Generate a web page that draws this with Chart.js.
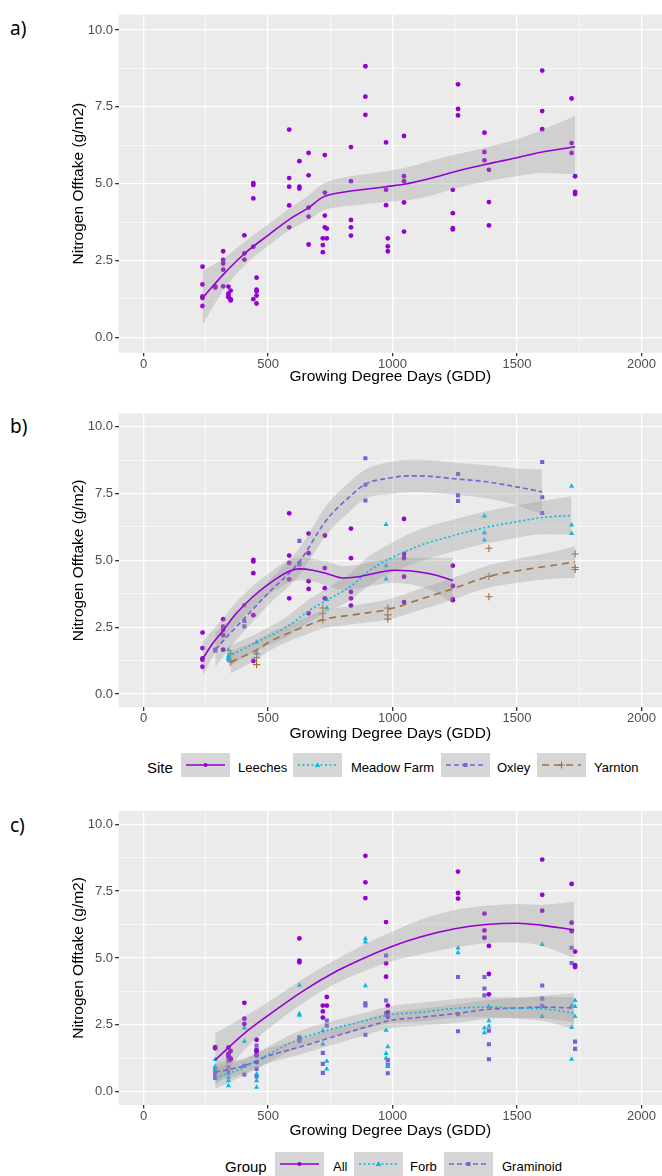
<!DOCTYPE html>
<html>
<head>
<meta charset="utf-8">
<script src="https://cdn.jsdelivr.net/npm/chart.js"></script>
<style>
  body { margin: 0; background: #fff; }
  #page { position: relative; width: 662px; height: 1176px; overflow: hidden; font-family: 'Liberation Sans', Arial, sans-serif; }
  canvas { position: absolute; left: 0; }
  .tag { position: absolute; left: 10px; font-family: 'Noto Sans', sans-serif; font-size: 19px; line-height: 1; transform: translateY(-50%); }
  .lg { position: absolute; font-size: 13px; line-height: 1; transform: translateY(-50%); white-space: nowrap; color: #000; }
  .lg.ttl { font-size: 15px; }
  .key { position: absolute; transform: translateY(-50%); }
</style>
</head>
<body>
<div id="page">
  <div class="tag" style="top:28px">a)</div>
  <div class="tag" style="top:426px">b)</div>
  <div class="tag" style="top:825px">c)</div>
  <canvas id="chartA" width="662" height="386" style="top:0px"></canvas>
  <canvas id="chartB" width="662" height="348" style="top:395px"></canvas>
  <canvas id="chartC" width="662" height="345" style="top:795px"></canvas>
</div>
<script>
// axis breaks
const xMajor = [0, 500, 1000, 1500, 2000];
const xMinor = [250, 750, 1250, 1750];
const yMajor = [0, 2.5, 5, 7.5, 10];
const yMinor = [1.25, 3.75, 6.25, 8.75];

// observations per site (GDD, N offtake)
const leechesX = [237,237,237,237,237, 320,320,320,320,320, 441,441,441,441,441, 585,585,585,585,585, 663,663,663,663,663, 728,728,728,728, 833,833,833,833,833, 1046,1046,1046,1046,1046, 1242,1242,1242,1242];
const leechesY = [2.30,1.72,1.33,1.28,1.02, 2.80,2.52,2.40,2.20,1.66, 5.02,4.96,4.52,2.95,1.24, 6.76,5.18,4.90,4.29,3.58, 6.00,5.27,4.22,3.93,3.02, 5.93,4.71,3.96,3.58, 6.19,5.08,3.82,3.58,3.31, 6.55,5.24,5.08,4.39,3.44, 4.80,4.04,3.55,3.51];
const oxleyX = [288,288, 405,405,405, 626,626,626, 891,891,891, 1263,1263,1263, 1601,1601,1601];
const oxleyY = [1.66,1.62, 3.32,2.73,2.53, 5.73,4.90,4.84, 8.82,7.83,7.24, 8.23,7.43,7.22, 8.68,7.36,6.77];
const meadowX = [341,341,341,341, 454,454, 736,736, 974,974,974, 1369,1369,1369, 1719,1719,1719];
const meadowY = [1.65,1.42,1.35,1.30, 1.94,1.55, 3.54,3.22, 6.34,4.80,4.30, 6.66,6.03,5.76, 7.77,6.32,6.00];
const yarntonX = [350,350,350, 454,454,454, 720,720,720, 981,981,981, 1387,1387,1387, 1733,1733,1733];
const yarntonY = [1.52,1.24,1.20, 1.50,1.36,1.10, 3.22,3.00,2.77, 3.22,2.96,2.80, 5.45,4.40,3.64, 5.24,4.73,4.66];

// observations per functional group
const forbX = [288,288,288, 341,341,341, 405,405, 454,454,454, 626,626,626, 720,720, 736,736, 891,891,891, 974,974,974, 981,981, 1263,1263, 1369,1369, 1387,1387,1387, 1601,1601, 1719,1719,1719, 1733,1733,1733];
const forbY = [1.20,0.94,0.79, 0.54,0.41,0.22, 2.38,1.88, 0.66,0.41,0.16, 3.98,2.91,2.86, 2.28,1.78, 1.14,0.85, 5.72,5.60,3.96, 2.30,1.43,1.25, 1.68,0.94, 5.37,5.19, 2.38,2.20, 3.18,2.65,2.45, 5.50,2.81, 3.22,2.40,1.21, 3.41,3.18,2.81];
const gramX = [288,288,288, 341,341,341,341, 405,405, 454,454,454,454,454, 626,626, 720,720,720, 736,736, 891,891,891, 974,974,974, 981,981,981, 1263,1263,1263, 1369,1369,1369, 1387,1387,1387, 1601,1601,1601, 1719,1719, 1733,1733];
const gramY = [0.85,0.66,0.51, 1.35,1.14,0.91,0.72, 0.97,0.64, 1.72,1.54,1.35,0.85,0.57, 2.03,1.90, 1.45,1.04,0.70, 2.66,2.47, 3.30,3.22,2.13, 5.09,3.41,2.93, 1.18,1.00,0.69, 4.29,2.90,2.26, 4.29,3.86,3.60, 2.28,1.77,1.21, 3.97,3.48,3.21, 5.38,4.81, 1.87,1.60];

// loess fits with confidence band, panel a
const fitAX = [237, 320, 405, 505, 586, 663, 720, 747, 833, 974, 1046, 1150, 1250, 1376, 1503, 1601, 1733];
const fitAY = [1.28, 2.04, 2.72, 3.35, 3.84, 4.22, 4.56, 4.64, 4.76, 4.90, 4.98, 5.17, 5.39, 5.63, 5.85, 6.03, 6.20];
const fitALo = [0.40, 1.52, 2.34, 3.00, 3.49, 3.82, 4.12, 4.19, 4.28, 4.40, 4.45, 4.60, 4.84, 5.08, 5.25, 5.35, 5.30];
const fitAHi = [2.16, 2.56, 3.10, 3.70, 4.19, 4.62, 5.00, 5.09, 5.24, 5.40, 5.51, 5.74, 5.94, 6.18, 6.45, 6.75, 7.20];

// panel b fits
const fitLeechesX = [237, 277, 320, 371, 438, 505, 585, 626, 680, 738, 801, 855, 935, 1003, 1150, 1242];
const fitLeechesY = [1.31, 1.88, 2.38, 3.00, 3.63, 4.13, 4.59, 4.68, 4.63, 4.50, 4.34, 4.38, 4.53, 4.63, 4.50, 4.25];
const fitLeechesLo = [0.66, 1.38, 1.93, 2.58, 3.23, 3.73, 4.17, 4.26, 4.21, 4.05, 3.89, 3.93, 4.08, 4.16, 3.90, 3.40];
const fitLeechesHi = [1.96, 2.38, 2.83, 3.42, 4.03, 4.53, 5.01, 5.10, 5.05, 4.95, 4.79, 4.83, 4.98, 5.10, 5.10, 5.10];
const fitOxleyX = [288, 371, 505, 625, 734, 828, 891, 989, 1070, 1150, 1263, 1376, 1509, 1601];
const fitOxleyY = [1.66, 2.50, 3.81, 4.94, 6.50, 7.38, 7.85, 8.08, 8.16, 8.14, 8.04, 7.94, 7.73, 7.56];
const fitOxleyLo = [1.01, 2.00, 3.36, 4.44, 5.95, 6.83, 7.30, 7.48, 7.56, 7.54, 7.44, 7.32, 7.03, 6.71];
const fitOxleyHi = [2.31, 3.00, 4.26, 5.44, 7.05, 7.93, 8.40, 8.68, 8.76, 8.74, 8.64, 8.56, 8.43, 8.41];
const fitMeadowX = [341, 454, 573, 667, 734, 828, 909, 976, 1111, 1250, 1369, 1495, 1601, 1719];
const fitMeadowY = [1.40, 1.94, 2.50, 3.13, 3.50, 4.00, 4.63, 5.00, 5.56, 5.94, 6.22, 6.44, 6.60, 6.68];
const fitMeadowLo = [1.02, 1.62, 2.12, 2.71, 3.05, 3.50, 4.08, 4.45, 4.96, 5.34, 5.62, 5.84, 5.98, 5.96];
const fitMeadowHi = [1.78, 2.26, 2.88, 3.55, 3.95, 4.50, 5.18, 5.55, 6.16, 6.54, 6.82, 7.04, 7.22, 7.40];
const fitYarntonX = [350, 454, 505, 640, 720, 855, 980, 1111, 1242, 1387, 1509, 1641, 1733];
const fitYarntonY = [1.19, 1.65, 1.95, 2.50, 2.78, 2.98, 3.16, 3.54, 3.94, 4.40, 4.62, 4.81, 4.94];
const fitYarntonLo = [0.77, 1.30, 1.62, 2.18, 2.45, 2.63, 2.78, 3.14, 3.54, 3.98, 4.17, 4.31, 4.34];
const fitYarntonHi = [1.61, 2.00, 2.28, 2.82, 3.11, 3.33, 3.54, 3.94, 4.34, 4.82, 5.07, 5.31, 5.54];

// panel c fits
const fitAllX = [288, 405, 505, 640, 778, 891, 1000, 1111, 1250, 1376, 1503, 1601, 1729];
const fitAllY = [1.19, 2.18, 2.88, 3.76, 4.52, 5.02, 5.44, 5.78, 6.09, 6.25, 6.30, 6.22, 6.05];
const fitAllLo = [0.19, 1.56, 2.38, 3.31, 4.07, 4.52, 4.89, 5.13, 5.39, 5.55, 5.58, 5.45, 5.00];
const fitAllHi = [2.19, 2.80, 3.38, 4.21, 4.97, 5.52, 5.99, 6.43, 6.79, 6.95, 7.02, 6.99, 7.10];
const fitGroupX = [288, 405, 505, 626, 734, 891, 989, 1111, 1263, 1387, 1509, 1601, 1729];
const fitForbY = [0.50, 0.91, 1.41, 1.97, 2.28, 2.66, 2.87, 2.97, 3.12, 3.16, 3.12, 3.10, 2.93];
const fitForbLo = [0.10, 0.61, 1.11, 1.67, 1.98, 2.36, 2.55, 2.62, 2.77, 2.78, 2.72, 2.65, 2.33];
const fitForbHi = [0.90, 1.21, 1.71, 2.27, 2.58, 2.96, 3.19, 3.32, 3.47, 3.54, 3.52, 3.55, 3.53];
const fitGramY = [0.72, 0.97, 1.35, 1.66, 1.97, 2.41, 2.66, 2.78, 2.93, 3.08, 3.13, 3.16, 3.13];
const fitGramLo = [0.37, 0.69, 1.07, 1.38, 1.69, 2.11, 2.36, 2.46, 2.58, 2.73, 2.75, 2.74, 2.58];
const fitGramHi = [1.07, 1.25, 1.63, 1.94, 2.25, 2.71, 2.96, 3.10, 3.28, 3.43, 3.51, 3.58, 3.68];

const PURPLE = '#9400D3';
const CYAN = '#00BCE4';
const SLATE = '#7B5FD6';
const BROWN = '#A3703F';

const siteNames = ['Leeches', 'Meadow Farm', 'Oxley', 'Yarnton'];
const groupNames = ['All', 'Forb', 'Graminoid'];

function pts(xs, ys) {
    return xs.map((x, i) => ({ x: x, y: ys[i] }));
}

function pointSet(xs, ys, color, style, r) {
    return {
        data: pts(xs, ys), showLine: false, pointStyle: style, pointRadius: r,
        pointBackgroundColor: color, pointBorderColor: color,
        pointBorderWidth: style === 'cross' ? 1.1 : 0, order: 4
    };
}

function band(xs, lo, hi) {
    return [
        { data: pts(xs, hi), borderWidth: 0, pointRadius: 0, fill: '+1',
          backgroundColor: 'rgba(153,153,153,0.32)', cubicInterpolationMode: 'monotone', order: 3 },
        { data: pts(xs, lo), borderWidth: 0, pointRadius: 0, fill: false,
          cubicInterpolationMode: 'monotone', order: 3 }
    ];
}

function fitLine(xs, ys, color, dash) {
    return { data: pts(xs, ys), borderColor: color, borderWidth: 1.6, borderDash: dash,
             pointRadius: 0, fill: false, cubicInterpolationMode: 'monotone', order: 1 };
}

// grey ggplot panel
const panelBg = {
    id: 'panelBg',
    beforeDraw(chart) {
        const a = chart.chartArea, ctx = chart.ctx;
        ctx.save();
        ctx.fillStyle = '#EBEBEB';
        ctx.fillRect(a.left, a.top, a.right - a.left, a.bottom - a.top);
        ctx.restore();
    }
};

const tickFont = { family: "'Liberation Sans', Arial, sans-serif", size: 13 };
const titleFont = { family: "'Liberation Sans', Arial, sans-serif", size: 15.5 };

function makePanel(id, padTop, axisH, datasets) {
    new Chart(document.getElementById(id), {
        type: 'line',
        data: { datasets: datasets },
        options: {
            responsive: false,
            animation: false,
            layout: { autoPadding: false, padding: { left: 69.7, top: padTop, right: 0, bottom: 0 } },
            plugins: { legend: { display: false }, tooltip: { enabled: false } },
            scales: {
                x: {
                    // panel is cropped on the right in the original figure
                    type: 'linear', min: -100, max: 2082,
                    afterBuildTicks: s => { s.ticks = xMajor.concat(xMinor).sort((a, b) => a - b).map(v => ({ value: v })); },
                    afterFit: s => { s.height = axisH; },
                    border: { display: false },
                    grid: {
                        color: '#FFFFFF', tickLength: 3.5,
                        lineWidth: c => (c.tick && xMajor.includes(c.tick.value)) ? 1.3 : 0.6,
                        tickColor: c => (c.tick && xMajor.includes(c.tick.value)) ? '#333333' : 'rgba(0,0,0,0)'
                    },
                    ticks: { autoSkip: false, maxRotation: 0, padding: 0, color: '#4D4D4D', font: tickFont,
                             callback: v => xMajor.includes(v) ? String(v) : '' },
                    title: { display: true, text: 'Growing Degree Days (GDD)', color: '#000', font: titleFont, padding: 0 }
                },
                y: {
                    type: 'linear', min: -0.5, max: 10.5,
                    afterBuildTicks: s => { s.ticks = yMajor.concat(yMinor).sort((a, b) => a - b).map(v => ({ value: v })); },
                    afterFit: s => { s.width = 48.9; },
                    border: { display: false },
                    grid: {
                        color: '#FFFFFF', tickLength: 3.5,
                        lineWidth: c => (c.tick && yMajor.includes(c.tick.value)) ? 1.3 : 0.6,
                        tickColor: c => (c.tick && yMajor.includes(c.tick.value)) ? '#333333' : 'rgba(0,0,0,0)'
                    },
                    ticks: { autoSkip: false, padding: 2, color: '#4D4D4D', font: tickFont,
                             callback: v => yMajor.includes(v) ? v.toFixed(1) : '' },
                    title: { display: true, text: 'Nitrogen Offtake (g/m2)', color: '#000', font: titleFont, padding: 0 }
                }
            }
        },
        plugins: [panelBg]
    });
}

// a) all sites pooled
const allX = leechesX.concat(oxleyX, meadowX, yarntonX);
const allY = leechesY.concat(oxleyY, meadowY, yarntonY);
makePanel('chartA', 14.6, 33.3, [
    pointSet(allX, allY, PURPLE, 'circle', 2.4),
    ...band(fitAX, fitALo, fitAHi),
    fitLine(fitAX, fitAY, PURPLE, [])
]);

// b) by site
makePanel('chartB', 18.3, 35.6, [
    pointSet(leechesX, leechesY, PURPLE, 'circle', 2.4),
    pointSet(meadowX, meadowY, CYAN, 'triangle', 3),
    pointSet(oxleyX, oxleyY, SLATE, 'rect', 2.9),
    pointSet(yarntonX, yarntonY, BROWN, 'cross', 3.6),
    ...band(fitLeechesX, fitLeechesLo, fitLeechesHi),
    ...band(fitMeadowX, fitMeadowLo, fitMeadowHi),
    ...band(fitOxleyX, fitOxleyLo, fitOxleyHi),
    ...band(fitYarntonX, fitYarntonLo, fitYarntonHi),
    fitLine(fitLeechesX, fitLeechesY, PURPLE, []),
    fitLine(fitMeadowX, fitMeadowY, CYAN, [2, 2.5]),
    fitLine(fitOxleyX, fitOxleyY, SLATE, [5, 3]),
    fitLine(fitYarntonX, fitYarntonY, BROWN, [7, 5])
]);

// c) by functional group (sites without group data excluded)
const grpAllX = oxleyX.concat(meadowX, yarntonX);
const grpAllY = oxleyY.concat(meadowY, yarntonY);
makePanel('chartC', 15.9, 35, [
    pointSet(grpAllX, grpAllY, PURPLE, 'circle', 2.4),
    pointSet(forbX, forbY, CYAN, 'triangle', 3),
    pointSet(gramX, gramY, SLATE, 'rect', 2.9),
    ...band(fitAllX, fitAllLo, fitAllHi),
    ...band(fitGroupX, fitForbLo, fitForbHi),
    ...band(fitGroupX, fitGramLo, fitGramHi),
    fitLine(fitAllX, fitAllY, PURPLE, []),
    fitLine(fitGroupX, fitForbY, CYAN, [2, 2.5]),
    fitLine(fitGroupX, fitGramY, SLATE, [5, 3])
]);

// ggplot-style legends (HTML)
function keySvg(color, dash, marker) {
    let m = '';
    if (marker === 'circle') m = `<circle cx="24.5" cy="12" r="2" fill="${color}"/>`;
    if (marker === 'triangle') m = `<polygon points="24.5,9.3 27.3,14 21.7,14" fill="${color}"/>`;
    if (marker === 'rect') m = `<rect x="22.5" y="10" width="4" height="4" fill="${color}"/>`;
    if (marker === 'cross') m = `<path d="M24.5 8.6V15.4M21.1 12H27.9" stroke="${color}" stroke-width="1.1"/>`;
    return `<svg width="49" height="24"><rect width="49" height="24" fill="#D6D6D6"/>` +
           `<line x1="5" y1="12" x2="44" y2="12" stroke="${color}" stroke-width="1.6" stroke-dasharray="${dash}"/>${m}</svg>`;
}

function addLegend(cy, title, titleLeft, names, keyLefts, labelLefts, styles) {
    const page = document.getElementById('page');
    const t = document.createElement('div');
    t.className = 'lg ttl'; t.textContent = title;
    t.style.left = titleLeft + 'px'; t.style.top = cy + 'px';
    page.appendChild(t);
    names.forEach((n, i) => {
        const k = document.createElement('div');
        k.className = 'key'; k.style.left = keyLefts[i] + 'px'; k.style.top = cy + 'px';
        k.innerHTML = keySvg(styles[i][0], styles[i][1], styles[i][2]);
        page.appendChild(k);
        const l = document.createElement('div');
        l.className = 'lg'; l.textContent = n;
        l.style.left = labelLefts[i] + 'px'; l.style.top = cy + 'px';
        page.appendChild(l);
    });
}

addLegend(767, 'Site', 147, siteNames, [181, 293, 441, 537], [238, 351, 497, 594], [
    [PURPLE, '', 'circle'], [CYAN, '2 2.5', 'triangle'], [SLATE, '5 3', 'rect'], [BROWN, '7 5', 'cross']
]);
addLegend(1166, 'Group', 225, groupNames, [275, 354, 444], [333, 410, 502], [
    [PURPLE, '', 'circle'], [CYAN, '2 2.5', 'triangle'], [SLATE, '5 3', 'rect']
]);
</script>
</body>
</html>
